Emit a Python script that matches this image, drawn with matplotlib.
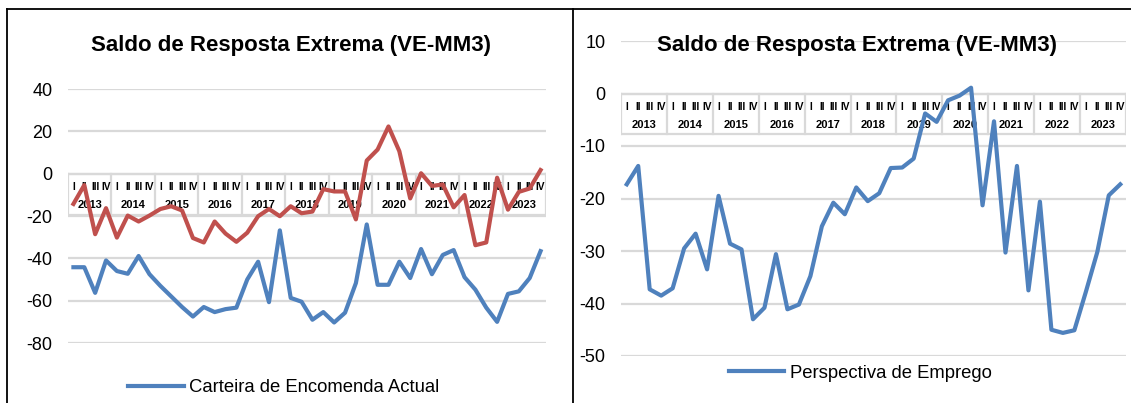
import numpy as np
import matplotlib.pyplot as plt
from matplotlib.lines import Line2D

plt.rcParams['font.family'] = ['Liberation Sans', 'DejaVu Sans']

years = [str(y) for y in range(2013, 2024)]
quarters = ['I', 'II', 'III', 'IV']

# left panel: Carteira de Encomenda Actual (blue) and second series (red)
carteira = [-44.2, -44.2, -56.3, -41.0, -46.0, -47.3, -38.9, -47.5, -53.0, -58.0, -63.0,
            -67.5, -63.0, -65.4, -64.0, -63.3, -50.0, -41.6, -60.7, -26.8, -58.7, -60.5,
            -69.0, -65.4, -70.3, -65.7, -51.7, -24.0, -52.5, -52.5, -41.6, -49.3, -35.6,
            -47.5, -38.4, -36.1, -48.9, -54.8, -63.3, -70.0, -56.8, -55.6, -49.3, -36.6]
outra = [-14.3, -5.4, -28.6, -16.3, -30.2, -19.8, -22.6, -19.8, -16.7, -15.4, -17.4,
         -30.4, -32.5, -22.6, -28.3, -32.2, -27.9, -20.1, -16.7, -20.1, -15.4, -18.7,
         -17.9, -7.3, -8.4, -8.4, -21.6, 6.2, 11.4, 22.3, 10.6, -11.7, 0.2,
         -5.8, -5.1, -15.9, -10.1, -33.8, -32.5, -1.9, -17.0, -8.6, -7.0, 1.7]
# right panel: Perspectiva de Emprego
emprego = [-17.3, -13.8, -37.3, -38.5, -37.1, -29.5, -26.7, -33.5, -19.5, -28.6, -29.7,
           -43.0, -40.8, -30.6, -41.1, -40.2, -34.8, -25.3, -20.8, -23.0, -17.9, -20.5,
           -19.0, -14.2, -14.1, -12.4, -3.8, -5.4, -1.3, -0.4, 1.1, -21.3, -5.3,
           -30.3, -13.8, -37.5, -20.6, -45.0, -45.6, -45.1, -37.8, -30.2, -19.4, -17.3]

BLUE = '#4f81bd'
RED = '#c0504d'
GRID = '#d9d9d9'
W, H = 1131, 403

fig = plt.figure(figsize=(W / 100, H / 100), dpi=100)


def px_axes(x0, x1, ytop, ybot):
    return fig.add_axes([x0 / W, 1 - ybot / H, (x1 - x0) / W, (ybot - ytop) / H])


def category_box(ax, ymin, ymax, height_px, box_px):
    per_px = (ymax - ymin) / height_px
    depth = box_px * per_px
    n = len(years) * 4
    ax.plot([-0.5, n - 0.5], [0, 0], color=GRID, lw=1.6, zorder=1)
    ax.plot([-0.5, n - 0.5], [-depth, -depth], color=GRID, lw=1.6, zorder=1)
    for k in range(len(years) + 1):
        ax.plot([k * 4 - 0.5] * 2, [0, -depth], color=GRID, lw=1.6, zorder=1)
    for k, yr in enumerate(years):
        for q, ql in enumerate(quarters):
            ax.text(k * 4 + q, -13 * per_px, ql, ha='center', va='center',
                    fontsize=7.3, fontweight='bold', zorder=2)
        ax.text(k * 4 + 1.5, -31 * per_px, yr, ha='center', va='center',
                fontsize=8, fontweight='bold', zorder=2)


def style(ax, ymin, ymax, step):
    ax.set_xlim(-0.5, len(years) * 4 - 0.5)
    ax.set_ylim(ymin, ymax)
    ticks = np.arange(ymin, ymax + 0.1, step)
    ax.set_yticks(ticks)
    ax.set_yticklabels([f'{int(t)}' for t in ticks], fontsize=13)
    ax.set_xticks([])
    ax.tick_params(axis='y', length=0, pad=11)
    for s in ax.spines.values():
        s.set_visible(False)
    for t in ticks:
        ax.axhline(t, color=GRID, lw=1.6, zorder=0)
    ax.patch.set_alpha(0)


x = np.arange(len(carteira))

# left chart
ax1 = px_axes(68, 546, 89, 343)
style(ax1, -80, 40, 20)
category_box(ax1, -80, 40, 254, 41)
l1, = ax1.plot(x, carteira, color=BLUE, lw=3.0, zorder=3, solid_joinstyle='round')
ax1.plot(x, outra, color=RED, lw=3.0, zorder=3, solid_joinstyle='round')

# right chart
ax2 = px_axes(621, 1126, 41, 356)
style(ax2, -50, 10, 10)
category_box(ax2, -50, 10, 315, 40)
l2, = ax2.plot(x, emprego, color=BLUE, lw=3.0, zorder=3, solid_joinstyle='round')

# titles
fig.text(291 / W, 1 - 45 / H, 'Saldo de Resposta Extrema (VE-MM3)', ha='center', va='center',
         fontsize=16, fontweight='bold')
fig.text(857 / W, 1 - 45 / H, 'Saldo de Resposta Extrema (VE-MM3)', ha='center', va='center',
         fontsize=16, fontweight='bold')

# legends
fig.legend([l1], ['Carteira de Encomenda Actual'], loc='center', bbox_to_anchor=(284 / W, 1 - 388 / H),
           frameon=False, fontsize=13.3, handlelength=3.0, handletextpad=0.3, borderpad=0)
fig.legend([l2], ['Perspectiva de Emprego'], loc='center', bbox_to_anchor=(860 / W, 1 - 373 / H),
           frameon=False, fontsize=13.3, handlelength=3.0, handletextpad=0.3, borderpad=0)

# panel borders
for xs, ys in [([7, W], [9, 9]), ([7, 7], [9, H]), ([573, 573], [9, H])]:
    fig.add_artist(Line2D([v / W for v in xs], [1 - v / H for v in ys], color='black', lw=1.3))

fig.savefig('out.png', dpi=100)
